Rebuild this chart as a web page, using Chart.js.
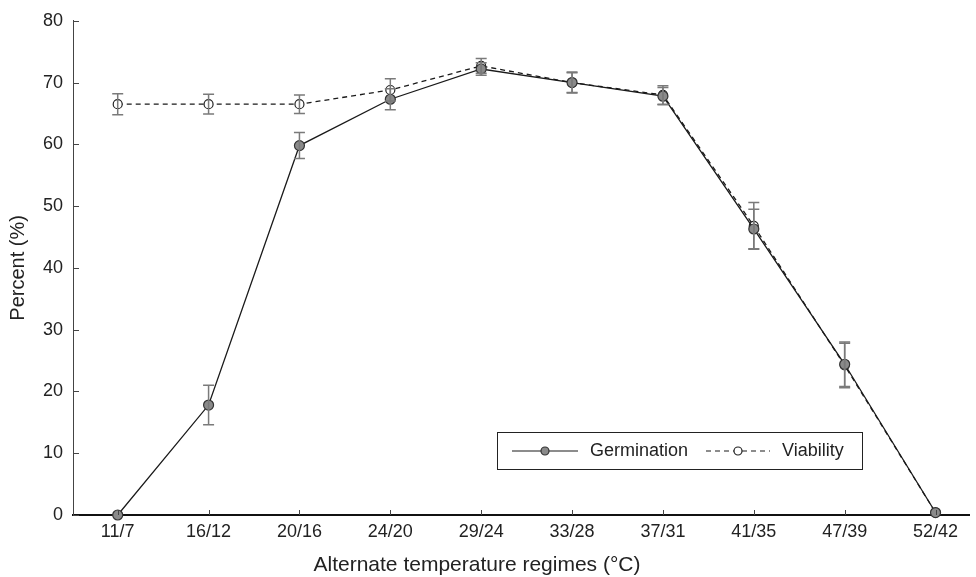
<!DOCTYPE html>
<html>
<head>
<meta charset="utf-8">
<script src="https://cdn.jsdelivr.net/npm/chart.js@4"></script>
<style>
  html, body { margin: 0; padding: 0; background: #fff; }
  #wrap { width: 976px; height: 577px; }
</style>
</head>
<body>
<div id="wrap"><canvas id="tempChart" width="976" height="577"></canvas></div>
<script>
// values
var regimes = ["11/7", "16/12", "20/16", "24/20", "29/24", "33/28", "37/31", "41/35", "47/39", "52/42"];
var germination = [0, 17.8, 59.8, 67.3, 72.2, 70.0, 67.8, 46.3, 24.4, 0.4];
var germinationErr = [0, 3.2, 2.1, 1.7, 1.0, 1.6, 1.4, 3.2, 3.6, 0];
var viability = [66.5, 66.5, 66.5, 68.8, 72.7, 70.0, 68.0, 46.8, 24.2, 0.4];
var viabilityErr = [1.7, 1.6, 1.5, 1.8, 1.2, 1.7, 1.5, 3.8, 3.6, 0];
var yTicks = [0, 10, 20, 30, 40, 50, 60, 70, 80];
var xTitle = "Alternate temperature regimes (°C)";

var FONT = "'Liberation Sans', Arial, sans-serif";
Chart.defaults.font.family = FONT;
Chart.defaults.color = "#222";

function toPoints(arr) {
  return arr.map(function (v, i) { return { x: i, y: v }; });
}

// vertical error bars with caps
var errorBars = {
  id: "errorBars",
  afterDatasetsDraw: function (chart) {
    var ctx = chart.ctx;
    var xs = chart.scales.x, ys = chart.scales.y;
    ctx.save();
    ctx.strokeStyle = "#7a7a7a";
    ctx.lineWidth = 1.5;
    chart.data.datasets.forEach(function (ds) {
      ds.data.forEach(function (p, i) {
        var e = ds.errors[i];
        if (!e) return;
        var x = xs.getPixelForValue(p.x);
        var y1 = ys.getPixelForValue(p.y + e);
        var y2 = ys.getPixelForValue(p.y - e);
        ctx.beginPath();
        ctx.moveTo(x, y1); ctx.lineTo(x, y2);
        ctx.moveTo(x - 5.5, y1); ctx.lineTo(x + 5.5, y1);
        ctx.moveTo(x - 5.5, y2); ctx.lineTo(x + 5.5, y2);
        ctx.stroke();
      });
    });
    ctx.restore();
  }
};

// short tick marks pointing into the plot, plus the x title
var innerTicks = {
  id: "innerTicks",
  afterDraw: function (chart) {
    var ctx = chart.ctx;
    var xs = chart.scales.x, ys = chart.scales.y;
    var a = chart.chartArea;
    ctx.save();
    ctx.strokeStyle = "#444";
    ctx.lineWidth = 1;
    ctx.beginPath();
    regimes.forEach(function (r, i) {
      var x = Math.round(xs.getPixelForValue(i)) + 0.5;
      ctx.moveTo(x, a.bottom);
      ctx.lineTo(x, a.bottom - 5);
    });
    yTicks.forEach(function (v) {
      var y = Math.round(ys.getPixelForValue(v)) + 0.5;
      ctx.moveTo(a.left, y);
      ctx.lineTo(a.left + 6, y);
    });
    ctx.stroke();

    // axis title sits left of centre in the original figure
    ctx.fillStyle = "#222";
    ctx.font = "21px " + FONT;
    ctx.textAlign = "center";
    ctx.textBaseline = "middle";
    ctx.fillText(xTitle, 477, 565);
    ctx.restore();
  }
};

// boxed legend inside the plot, line with marker in the middle
var boxLegend = {
  id: "boxLegend",
  afterDraw: function (chart) {
    var ctx = chart.ctx;
    var ds = chart.data.datasets;
    var bx = 497, by = 432, bw = 365, bh = 37;
    ctx.save();
    ctx.fillStyle = "#fff";
    ctx.fillRect(bx, by, bw, bh);
    ctx.strokeStyle = "#222";
    ctx.lineWidth = 1;
    ctx.strokeRect(bx + 0.5, by + 0.5, bw, bh);
    var cy = by + bh / 2 + 0.5;
    var items = [
      { d: ds[0], x1: 512, x2: 578, tx: 590, r: 4 },
      { d: ds[1], x1: 706, x2: 770, tx: 782, r: 4 }
    ];
    items.forEach(function (it) {
      ctx.strokeStyle = it.d.borderColor;
      ctx.lineWidth = 1.2;
      ctx.setLineDash(it.d.borderDash || []);
      ctx.beginPath();
      ctx.moveTo(it.x1, cy); ctx.lineTo(it.x2, cy);
      ctx.stroke();
      ctx.setLineDash([]);
      var mx = (it.x1 + it.x2) / 2;
      ctx.beginPath();
      ctx.arc(mx, cy, it.r, 0, Math.PI * 2);
      ctx.fillStyle = it.d.pointBackgroundColor;
      ctx.fill();
      ctx.strokeStyle = it.d.pointBorderColor;
      ctx.stroke();
      ctx.fillStyle = "#222";
      ctx.font = "18px " + FONT;
      ctx.textBaseline = "middle";
      ctx.fillText(it.d.label, it.tx, cy);
    });
    ctx.restore();
  }
};

new Chart("tempChart", {
  type: "line",
  data: {
    datasets: [
      {
        label: "Germination",
        data: toPoints(germination),
        errors: germinationErr,
        borderColor: "#1a1a1a",
        borderWidth: 1.3,
        pointRadius: 5,
        pointBackgroundColor: "#8a8a8a",
        pointBorderColor: "#333",
        pointBorderWidth: 1.2,
        clip: false,
        tension: 0
      },
      {
        label: "Viability",
        data: toPoints(viability),
        errors: viabilityErr,
        borderColor: "#1a1a1a",
        borderWidth: 1.3,
        borderDash: [5, 4],
        pointRadius: 4.5,
        pointBackgroundColor: "#fff",
        pointBorderColor: "#222",
        pointBorderWidth: 1.2,
        clip: false,
        tension: 0
      }
    ]
  },
  options: {
    responsive: false,
    animation: false,
    layout: { padding: { top: 18, left: 0, right: 0, bottom: 0 } },
    plugins: {
      legend: { display: false },
      tooltip: { enabled: false }
    },
    scales: {
      x: {
        type: "linear",
        min: -0.492,
        max: 9.377,
        afterFit: function (s) { s.height = 62; },
        afterBuildTicks: function (s) {
          s.ticks = regimes.map(function (r, i) { return { value: i }; });
        },
        ticks: {
          padding: 6,
          font: { size: 18 },
          maxRotation: 0,
          callback: function (v) { return regimes[v]; }
        },
        grid: { display: false, drawTicks: false },
        border: { display: true, color: "#111", width: 2 },
        title: { display: false }
      },
      y: {
        min: 0,
        max: 80,
        afterFit: function (s) { s.width = 73; },
        afterBuildTicks: function (s) {
          s.ticks = yTicks.map(function (v) { return { value: v }; });
        },
        ticks: { padding: 10, font: { size: 18 } },
        grid: { display: false, drawTicks: false },
        border: { display: true, color: "#444", width: 1 },
        title: {
          display: true,
          text: "Percent (%)",
          font: { size: 20 },
          padding: { top: 6, bottom: 0 }
        }
      }
    }
  },
  plugins: [errorBars, innerTicks, boxLegend]
});
</script>
</body>
</html>
